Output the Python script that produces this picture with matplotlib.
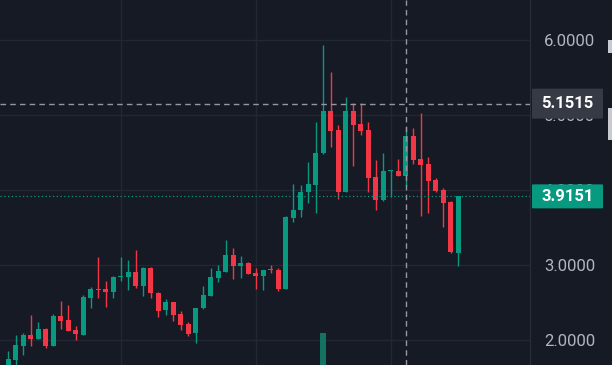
import matplotlib
matplotlib.use('Agg')
import numpy as np
import matplotlib.pyplot as plt
from matplotlib.patches import Rectangle, FancyBboxPatch
import matplotlib.transforms as mtransforms

# OHLC, oldest first
opens = [1.65, 1.733, 1.924, 2.063, 2.017, 2.147, 1.92, 2.32, 2.267, 2.133,
         2.067, 2.564, 2.68, 2.684, 2.64, 2.84, 2.84, 2.903, 2.72, 2.964,
         2.631, 2.396, 2.503, 2.347, 2.209, 2.089, 2.423, 2.587, 2.831, 2.911,
         3.133, 2.991, 3.031, 2.9, 2.857, 2.94, 2.933, 2.68, 3.623, 3.727,
         3.978, 4.067, 4.489, 5.053, 4.8, 3.978, 5.053, 4.876, 4.8, 4.178,
         3.867, 4.25, 4.253, 4.187, 4.72, 4.413, 4.347, 4.133, 4.0, 3.844,
         3.164]
highs = [1.853, 2.067, 2.093, 2.337, 2.236, 2.16, 2.347, 2.52, 2.467, 2.187,
         2.6, 2.703, 3.103, 2.787, 2.85, 3.103, 3.067, 3.196, 2.98, 2.97,
         2.644, 2.547, 2.51, 2.387, 2.244, 2.43, 2.72, 2.964, 3.0, 3.333,
         3.231, 3.12, 3.04, 2.964, 2.94, 3.0, 2.956, 3.65, 4.076, 4.067,
         4.378, 4.907, 5.933, 5.569, 4.862, 5.244, 5.156, 5.156, 4.907, 4.4,
         4.489, 4.26, 4.409, 4.844, 4.822, 5.027, 4.44, 4.156, 4.022, 3.85,
         3.9151]
lows = [1.62, 1.667, 1.8, 1.92, 2.017, 1.889, 1.92, 2.147, 2.12, 2.0,
        2.067, 2.423, 2.564, 2.444, 2.556, 2.787, 2.667, 2.697, 2.591, 2.556,
        2.311, 2.333, 2.253, 2.133, 2.058, 1.956, 2.42, 2.587, 2.778, 2.91,
        2.809, 2.827, 2.877, 2.68, 2.667, 2.889, 2.657, 2.68, 3.578, 3.644,
        3.831, 3.689, 4.48, 4.578, 3.88, 3.97, 4.32, 4.733, 3.973, 3.727,
        3.86, 3.911, 4.18, 4.058, 4.347, 3.66, 3.693, 3.975, 3.511, 3.16,
        2.987]
closes = [1.747, 1.933, 2.067, 2.017, 2.143, 1.92, 2.324, 2.257, 2.12, 2.076,
          2.577, 2.68, 2.67, 2.644, 2.84, 2.848, 2.911, 2.72, 2.964, 2.622,
          2.391, 2.503, 2.333, 2.2, 2.076, 2.423, 2.6, 2.84, 2.92, 3.133,
          2.987, 3.031, 2.88, 2.857, 2.933, 2.93, 2.676, 3.636, 3.733, 3.978,
          4.08, 4.489, 5.053, 4.791, 3.978, 5.053, 4.873, 4.791, 4.164, 3.867,
          4.253, 4.26, 4.187, 4.72, 4.4, 4.333, 4.12, 3.982, 3.831, 3.167,
          3.9151]

vol_index = 42          # the only volume bar tall enough to show
vol_top = 2.093
last_price = 3.9151
cross_price = 5.1515
cross_index = 53
grid_every = [15, 33, 51]
price_ticks = [2, 3, 4, 5, 6]

bg = '#161a25'
green = '#089981'
red = '#f23645'
grid_c = '#232733'
text_c = '#b2b5be'
plt.rcParams['font.family'] = ['Roboto', 'DejaVu Sans']

fig = plt.figure(figsize=(6.12, 3.65), dpi=100, facecolor=bg)
ax = fig.add_axes([0, 0, 530 / 612, 1])
ax.set_facecolor(bg)

ymin, ymax = 1.6667, 6.5333
ax.set_ylim(ymin, ymax)
ax.set_xlim(-1.107, 69.56)

for p in price_ticks:
    ax.axhline(p, color=grid_c, lw=1, zorder=0)
for g in grid_every:
    ax.axvline(g, color=grid_c, lw=1, zorder=0)

# volume
ax.bar(vol_index, vol_top - ymin, bottom=ymin, width=0.76, color='#137261', zorder=1)

x = np.arange(len(opens))
for i in x:
    o, h, l, c = opens[i], highs[i], lows[i], closes[i]
    col = green if c >= o else red
    ax.vlines(i, l, h, color=col, lw=1, zorder=2)
    body = max(abs(c - o), 0.012)
    ax.add_patch(Rectangle((i - 0.35, min(o, c)), 0.7, body, facecolor=col,
                           edgecolor='none', zorder=3))

# last price line
ax.axhline(last_price, color=green, lw=0.9, ls=(0, (1, 2)), zorder=4)

# crosshair
ax.axhline(cross_price, color='#9598a1', lw=1, ls=(0, (4, 3)), zorder=5)
ax.axvline(cross_index, color='#9598a1', lw=1, ls=(0, (4, 3)), zorder=5)

ax.yaxis.tick_right()
ax.set_yticks(price_ticks)
ax.set_yticklabels(['%.4f' % p for p in price_ticks])
ax.tick_params(axis='y', length=0, pad=10, labelsize=12, labelcolor=text_c)
ax.set_xticks([])
for s in ['top', 'bottom', 'left']:
    ax.spines[s].set_visible(False)
ax.spines['right'].set_color('#2a2e39')

# price labels on the scale (box sizes in pixels, converted to axes / data units)
px_y = (ymax - ymin) / 365
trans = mtransforms.blended_transform_factory(ax.transAxes, ax.transData)
for price, fc, h_px in [(last_price, green, 24), (cross_price, '#363a45', 30)]:
    box = FancyBboxPatch((532 / 530, price - h_px / 2 * px_y), 71 / 530, h_px * px_y,
                         boxstyle='round,pad=0,rounding_size=0.004', mutation_aspect=1,
                         transform=trans, fc=fc, ec='none', clip_on=False, zorder=10)
    ax.add_patch(box)
    ax.text(567.5 / 530, price, '%.4f' % price, transform=trans, color='white',
            fontsize=12, fontweight='bold', va='center', ha='center',
            clip_on=False, zorder=11)

# bits of interface cut off at the right edge
fig.patches.append(Rectangle((608 / 612, 1 - 53 / 365), 4 / 612, 13 / 365,
                             transform=fig.transFigure, fc='#c8cad0', ec='none'))
fig.patches.append(Rectangle((608 / 612, 1 - 140 / 365), 4 / 612, 32 / 365,
                             transform=fig.transFigure, fc='#c8cad0', ec='none'))

fig.savefig('out.png', dpi=100, facecolor=bg)
